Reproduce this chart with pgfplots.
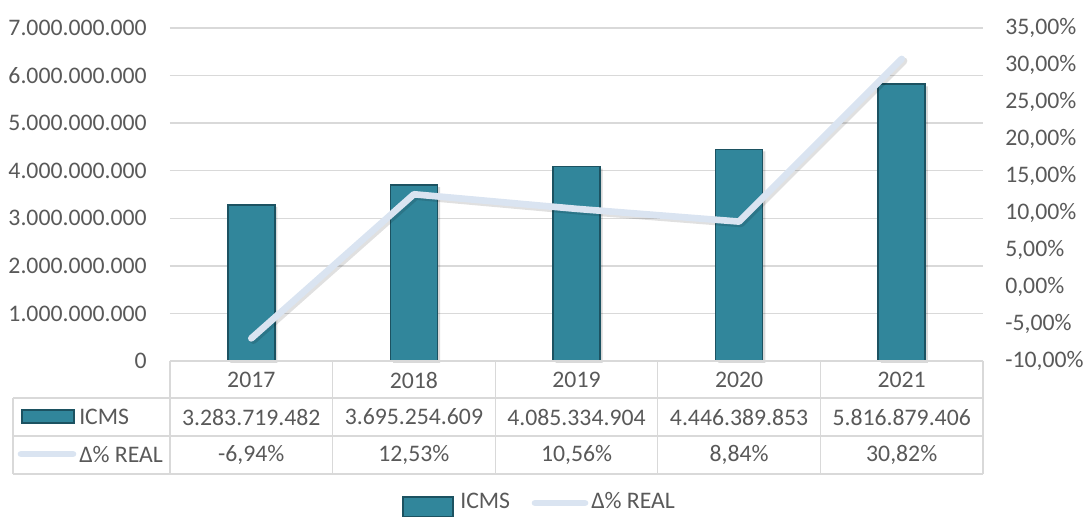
\documentclass[border=0pt]{standalone}
\usepackage{pgfplots}
\pgfplotsset{compat=1.18}
\usepackage{fontspec}
\setmainfont{Carlito}
\definecolor{barc}{RGB}{49,134,155}
\definecolor{bare}{RGB}{28,82,97}
\definecolor{linec}{RGB}{218,228,241}
\definecolor{txt}{RGB}{89,89,89}
\definecolor{gridc}{RGB}{217,217,217}
\newcommand{\fs}{\fontsize{17.8}{21}\selectfont}
\begin{document}
\begin{tikzpicture}
\useasboundingbox (0,0) rectangle (814.5pt,387.75pt);
\begin{axis}[
  at={(127.5pt,117pt)}, anchor=south west,
  scale only axis, width=609.75pt, height=249.75pt,
  xmin=-0.5, xmax=4.5, ymin=0, ymax=7000000000,
  ytick={0,1000000000,2000000000,3000000000,4000000000,5000000000,6000000000,7000000000},
  scaled y ticks=false,
  yticklabel={\pgfmathprintnumber[fixed,precision=0,1000 sep={.},assume math mode=true]{\tick}},
  yticklabel style={font=\fs, text=txt, inner sep=0pt, xshift=-17.25pt},
  ymajorgrids, grid style={gridc, line width=1pt},
  axis line style={draw=none}, major tick length=0pt, xtick=\empty,
  clip=false,
]
\addplot[ybar, bar width=35.25pt, fill=barc, draw=bare, line width=1.2pt,
  preaction={fill=black, opacity=0.15, draw=none, transform canvas={xshift=2pt,yshift=-1.5pt}}]
  coordinates {(0,3283719482) (1,3695254609) (2,4085334904) (3,4446389853) (4,5816879406)};
\end{axis}
\begin{axis}[
  at={(127.5pt,117pt)}, anchor=south west,
  scale only axis, width=609.75pt, height=249.75pt,
  xmin=-0.5, xmax=4.5, ymin=-10, ymax=35,
  ytick={-10,-5,0,5,10,15,20,25,30,35},
  axis y line*=right, axis x line=none,
  yticklabel={\pgfmathprintnumber[fixed,fixed zerofill,precision=2,use comma,assume math mode=true]{\tick}\%},
  yticklabel style={font=\fs, text=txt, inner sep=0pt, xshift=16.5pt, anchor=west},
  axis line style={draw=none}, major tick length=0pt,
  clip=false,
]
\addplot[linec, line width=5pt, line cap=round, line join=round,
  preaction={draw=black, opacity=0.12, line width=5.5pt, transform canvas={xshift=1.5pt,yshift=-1.5pt}}]
  coordinates {(0,-6.94) (1,12.53) (2,10.56) (3,8.84) (4,30.82)};
\end{axis}
\begin{scope}[x=0.75pt,y=-0.75pt,yshift=387.75pt]
  \draw[gridc, line width=1pt] (170,361) -- (983,361);
  \draw[gridc, line width=1pt] (13,398) -- (983,398);
  \draw[gridc, line width=1pt] (13,436) -- (983,436);
  \draw[gridc, line width=1pt] (13,474) -- (983,474);
  \draw[gridc, line width=1pt] (13,398) -- (13,474);
  \foreach \xx in {170,332.6,495.2,657.8,820.4,983} \draw[gridc, line width=1pt] (\xx,361) -- (\xx,474);
  \foreach \yr/\ic/\re [count=\i from 0] in {2017/3.283.719.482/-6{,}94\%,2018/3.695.254.609/12{,}53\%,2019/4.085.334.904/10{,}56\%,2020/4.446.389.853/8{,}84\%,2021/5.816.879.406/30{,}82\%}{
    \pgfmathsetmacro{\cx}{251.3+162.6*\i}
    \node[font=\fs, text=txt, inner sep=0pt] at (\cx,380) {\yr};
    \node[font=\fs, text=txt, inner sep=0pt] at (\cx,417) {\ic};
    \node[font=\fs, text=txt, inner sep=0pt] at (\cx,455) {\re};
  }
  % row keys
  \fill[barc] (22,410) rectangle (74,423);
  \draw[bare, line width=1pt] (22,410) rectangle (74,423);
  \node[font=\fs, text=txt, inner sep=0pt, anchor=west] at (79,417) {ICMS};
  \draw[linec, line width=5pt, line cap=round] (21,454) -- (73,454);
  \node[font=\fs, text=txt, inner sep=0pt, anchor=west] at (79,455) {Δ\% REAL};
  % legend
  \fill[barc] (403,497) rectangle (453,517);
  \draw[bare, line width=1pt] (403,497) rectangle (453,517);
  \node[font=\fs, text=txt, inner sep=0pt, anchor=base west] at (460,509) {ICMS};
  \draw[linec, line width=5pt, line cap=round] (535,503) -- (585,503);
  \node[font=\fs, text=txt, inner sep=0pt, anchor=base west] at (591,509) {Δ\% REAL};
\end{scope}
\end{tikzpicture}
\end{document}
